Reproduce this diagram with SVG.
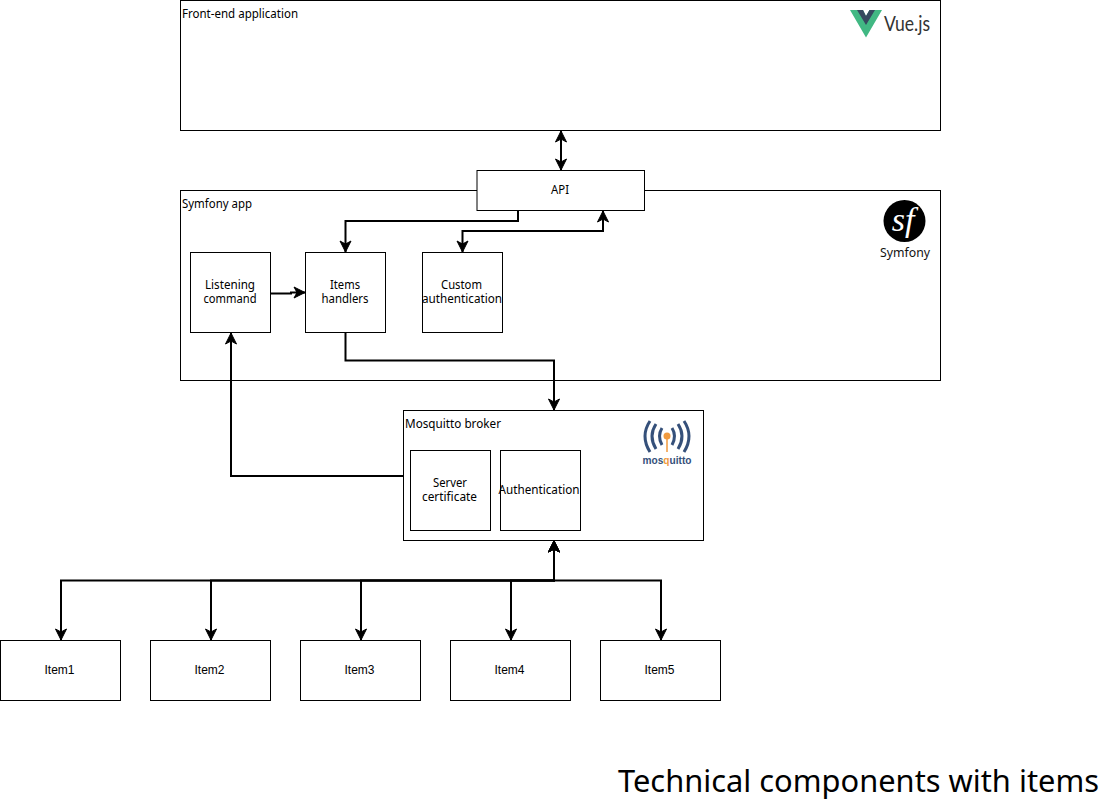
<svg xmlns="http://www.w3.org/2000/svg" width="1101" height="799" viewBox="0 0 1101 799">
<defs>
<marker id="a" markerUnits="userSpaceOnUse" markerWidth="12" markerHeight="12" refX="10" refY="5" orient="auto-start-reverse" overflow="visible"><path d="M-1 -0.500L10 5L-1 10.500L2 5Z" fill="#000" stroke="#000"/></marker>
</defs>
<style>
.b{fill:#fff;stroke:#000;stroke-width:1}
.t{font-family:"Noto Sans","Open Sans",sans-serif;font-size:12px;fill:#000}
.m{text-anchor:middle}
.i{font-family:"Liberation Sans",Arial,sans-serif;font-size:12px;text-anchor:middle;fill:#000}
.c{fill:none;stroke:#000;stroke-width:2}
.e{marker-end:url(#a)}
.s{marker-start:url(#a)}
</style>
<g id="frontend"><rect class="b" x="180.500" y="0.500" width="760" height="130"/><text class="t" x="182" y="18" textLength="116" lengthAdjust="spacingAndGlyphs">Front-end application</text>
<g id="vue-logo"><path d="M850 10H863L866 16L869.500 10H882L866 37.500Z" fill="#41b883"/><path d="M857 10H863L866 16L869.500 10H875L866 25Z" fill="#35495e"/><text x="884" y="31" font-family="Lato,'Noto Sans',sans-serif" font-size="21" fill="#333" textLength="46" lengthAdjust="spacingAndGlyphs">Vue.js</text></g></g>
<g id="symfony"><rect class="b" x="180.500" y="190.500" width="760" height="190"/><text class="t" x="182" y="208" textLength="70" lengthAdjust="spacingAndGlyphs">Symfony app</text>
<g id="symfony-logo"><circle cx="904.500" cy="221" r="21" fill="#000"/><text x="903" y="231" text-anchor="middle" font-family="'Liberation Serif',serif" font-style="italic" font-size="34" fill="#fff">sf</text><text x="905" y="257" text-anchor="middle" font-family="'Noto Sans',sans-serif" font-size="13" fill="#111" textLength="50" lengthAdjust="spacingAndGlyphs">Symfony</text></g></g>
<g id="api"><rect class="b" x="477" y="170.500" width="167.500" height="40"/><text class="t m" x="560" y="194" textLength="18" lengthAdjust="spacingAndGlyphs">API</text></g>
<g id="listening"><rect class="b" x="190.500" y="252.500" width="80" height="80"/><text class="t m" x="230" y="289"><tspan x="230" textLength="50" lengthAdjust="spacingAndGlyphs">Listening</tspan><tspan x="230" y="303" textLength="53" lengthAdjust="spacingAndGlyphs">command</tspan></text></g>
<g id="handlers"><rect class="b" x="305.500" y="252.500" width="80" height="80"/><text class="t m" x="345" y="289"><tspan x="345" textLength="30" lengthAdjust="spacingAndGlyphs">Items</tspan><tspan x="345" y="303" textLength="47" lengthAdjust="spacingAndGlyphs">handlers</tspan></text></g>
<g id="customauth"><rect class="b" x="422.500" y="252.500" width="80" height="80"/><text class="t m" x="462" y="289"><tspan x="461.500" textLength="41" lengthAdjust="spacingAndGlyphs">Custom</tspan><tspan x="462" y="303" textLength="80" lengthAdjust="spacingAndGlyphs">authentication</tspan></text></g>
<g id="mosquitto"><rect class="b" x="403.500" y="410.500" width="300" height="130"/><text class="t" x="405" y="428" textLength="96" lengthAdjust="spacingAndGlyphs">Mosquitto broker</text>
<g id="mosquitto-logo" fill="none" stroke="#35507a" stroke-width="3"><path d="M650 421Q640 436 650 452M656 424Q648 436 656 449M662 428Q657 436 662 445M684 421Q694 436 684 452M678 424Q686 436 678 449M672 428Q677 436 672 445"/><path d="M667 438V452" stroke="#f09a3e" stroke-width="1.500"/><circle cx="667" cy="436" r="3.500" fill="#f09a3e" stroke="none"/><text x="667" y="464" text-anchor="middle" font-family="'Liberation Sans',sans-serif" font-weight="bold" font-size="10" fill="#35507a" stroke="none" textLength="49" lengthAdjust="spacingAndGlyphs">mos<tspan fill="#f09a3e">q</tspan>uitto</text></g></g>
<g id="cert"><rect class="b" x="410.500" y="450.500" width="80" height="80"/><text class="t m" x="450" y="487"><tspan x="450" textLength="34" lengthAdjust="spacingAndGlyphs">Server</tspan><tspan x="449.500" y="501" textLength="55" lengthAdjust="spacingAndGlyphs">certificate</tspan></text></g>
<g id="auth"><rect class="b" x="500.500" y="450.500" width="80" height="80"/><text class="t m" x="539" y="494" textLength="81" lengthAdjust="spacingAndGlyphs">Authentication</text></g>
<g id="item1"><rect class="b" x="0.500" y="640.500" width="120" height="60"/><text class="i" x="59.500" y="674">Item1</text></g>
<g id="item2"><rect class="b" x="150.500" y="640.500" width="120" height="60"/><text class="i" x="209.500" y="674">Item2</text></g>
<g id="item3"><rect class="b" x="300.500" y="640.500" width="120" height="60"/><text class="i" x="359.500" y="674">Item3</text></g>
<g id="item4"><rect class="b" x="450.500" y="640.500" width="120" height="60"/><text class="i" x="509.500" y="674">Item4</text></g>
<g id="item5"><rect class="b" x="600.500" y="640.500" width="120" height="60"/><text class="i" x="659.500" y="674">Item5</text></g>
<g id="connectors">
<path class="c e s" d="M561 131V170"/>
<path class="c e" d="M518 211V221H345.500V252"/>
<path class="c e s" d="M462.500 252V231H603V211"/>
<path class="c e" d="M271 293.500H291V292.500H305"/>
<path class="c e" d="M345.500 333V360.500H554V410"/>
<path class="c e" d="M403 476H231V333"/>
<path class="c e s" d="M61 640V580.500H554V541"/>
<path class="c e s" d="M211 640V580.500H554V541"/>
<path class="c e s" d="M361 640V580.500H554V541"/>
<path class="c e s" d="M511 640V580.500H554V541"/>
<path class="c e s" d="M661 640V580.500H554V541"/>
</g>
<text id="title" x="618" y="792" font-family="'Noto Sans','Open Sans',sans-serif" font-size="31" fill="#000" textLength="481" lengthAdjust="spacingAndGlyphs">Technical components with items</text>
</svg>
